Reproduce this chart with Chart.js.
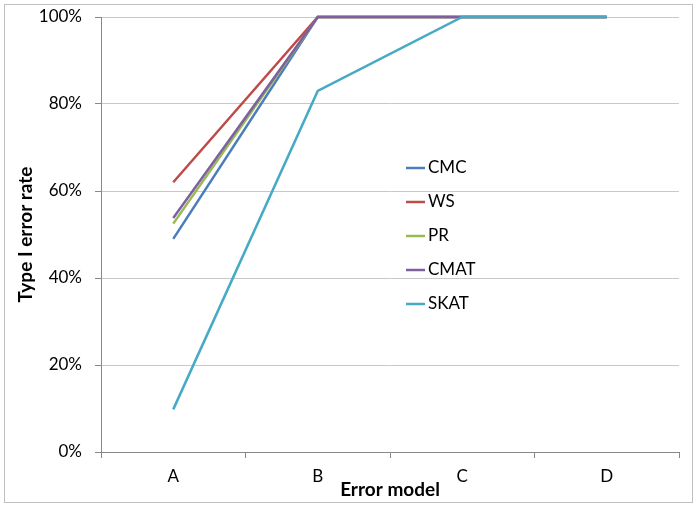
<!DOCTYPE html>
<html>
<head>
<meta charset="utf-8">
<script src="https://cdn.jsdelivr.net/npm/chart.js@4/dist/chart.umd.min.js"></script>
<style>
  body { margin: 0; background: #fff; }
  #wrap { position: relative; width: 699px; height: 509px; }
  #frame { position: absolute; left: 4px; top: 4px; width: 687px; height: 497px; border: 1px solid #c0c0c0; pointer-events: none; }
</style>
</head>
<body>
<div id="wrap">
  <canvas id="chart" width="699" height="509"></canvas>
  <div id="frame"></div>
</div>
<script>
// error models on the x axis
var models = ['A', 'B', 'C', 'D'];

// type I error rate per method
var cmc  = [0.49, 1, 1, 1];
var ws   = [0.62, 1, 1, 1];
var pr   = [0.525, 1, 1, 1];
var cmat = [0.538, 1, 1, 1];
var skat = [0.098, 0.83, 1, 1];

var names  = ['CMC', 'WS', 'PR', 'CMAT', 'SKAT'];
var series = [cmc, ws, pr, cmat, skat];
var colors = ['#4A7EBB', '#BE4B48', '#98B954', '#7D60A0', '#46AAC5'];

var yTicks = [0, 0.2, 0.4, 0.6, 0.8, 1];

var datasets = series.map(function(vals, i){
    return {
        label: names[i],
        data: vals,
        borderColor: colors[i],
        backgroundColor: colors[i],
        borderWidth: 2.5,
        pointRadius: 0,
        tension: 0,
        fill: false,
        clip: 6,
        order: series.length - i
    };
});

// legend sits inside the plot, like the original
var insideLegend = {
    id: 'insideLegend',
    afterDraw: function(chart){
        var ctx = chart.ctx;
        ctx.save();
        ctx.font = '17px Lato';
        ctx.textBaseline = 'middle';
        chart.data.datasets.forEach(function(ds, i){
            var y = 168 + i * 34;
            ctx.strokeStyle = ds.borderColor;
            ctx.lineWidth = 2.5;
            ctx.beginPath();
            ctx.moveTo(406, y);
            ctx.lineTo(425, y);
            ctx.stroke();
            ctx.fillStyle = '#000';
            ctx.fillText(ds.label, 428, y);
        });
        ctx.restore();
    }
};

new Chart(document.getElementById('chart'), {
    type: 'line',
    data: { labels: models, datasets: datasets },
    plugins: [insideLegend],
    options: {
        responsive: false,
        animation: false,
        layout: { padding: { left: 0, right: 20, top: 17, bottom: 0 } },
        plugins: { legend: { display: false }, tooltip: { enabled: false } },
        scales: {
            x: {
                offset: true,
                afterFit: function(scale){ scale.height = 57; },
                grid: { display: true, drawOnChartArea: false, offset: true, tickLength: 6, tickColor: '#888', color: '#888' },
                border: { color: '#888', width: 1 },
                ticks: { color: '#000', font: { family: 'Lato', size: 17 }, padding: 8 },
                title: { display: true, text: 'Error model', color: '#000', font: { family: 'Lato', size: 19, weight: 'bold' }, padding: { top: 0, bottom: 8 } }
            },
            y: {
                min: 0,
                max: 1,
                afterFit: function(scale){
                    scale.width = 101;
                    scale.paddingTop = 0;
                    scale.paddingBottom = 0;
                },
                afterBuildTicks: function(scale){ scale.ticks = yTicks.map(function(v){ return { value: v }; }); },
                grid: { color: '#c8c8c8', tickLength: 6, tickColor: '#888' },
                border: { color: '#888', width: 1 },
                ticks: {
                    color: '#000',
                    font: { family: 'Lato', size: 17 },
                    padding: 13,
                    callback: function(v){ return Math.round(v * 100) + '%'; }
                },
                title: { display: true, text: 'Type I error rate', color: '#000', font: { family: 'Lato', size: 19, weight: 'bold' }, padding: { top: 14, bottom: 0 } }
            }
        }
    }
});
</script>
</body>
</html>
